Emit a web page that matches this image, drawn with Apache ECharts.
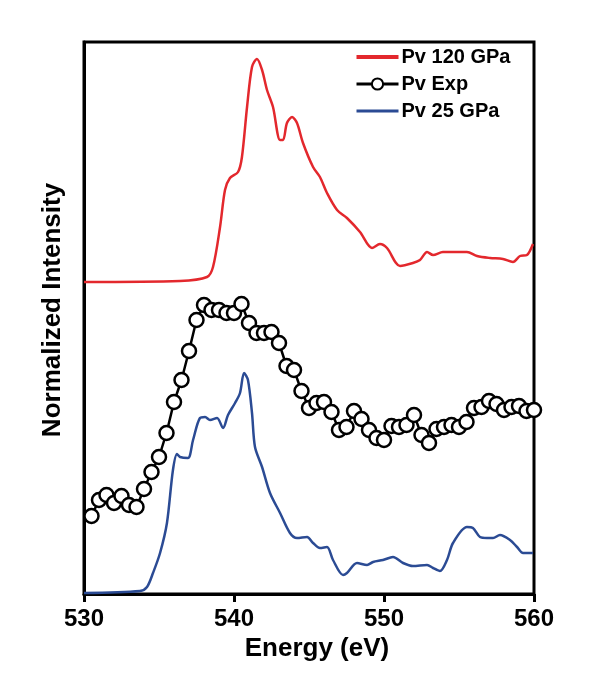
<!DOCTYPE html>
<html><head><meta charset="utf-8">
<script src="https://cdn.jsdelivr.net/npm/echarts@6/dist/echarts.min.js"></script>
<style>html,body{margin:0;padding:0;background:#fff}#c{width:607px;height:687px}</style>
</head><body><div id="c"></div>
<script>
const xTicks = [530, 540, 550, 560];
const red120E = [530,536.4,538.2,538.6,539.07,539.4,539.73,540.27,540.53,540.87,541.2,541.53,541.87,542.2,542.6,543.07,543.27,543.53,543.87,544.2,544.6,545.27,545.73,546.2,546.87,547.53,548.4,549.2,549.73,550.2,551.07,551.93,552.4,552.87,553.27,553.93,554.6,555.53,556.2,557.07,557.93,558.6,559.07,559.53,559.93];
const red120I = [312,313,317,327,367,404,416,422,437,487,527,535,524,504,487,454,454,471,477,471,451,427,417,401,384,376,362,346,350,346,328,331,334,342,339,342,342,342,338,336,335,332,338,339,350];
const blue25E = [530,533.73,534.2,534.6,535.07,535.53,535.93,536.2,536.4,536.93,537.27,537.73,538.07,538.4,538.87,539.27,539.6,540.07,540.4,540.67,540.93,541.2,541.4,541.87,542.4,543.07,543.73,544.2,544.87,545.27,545.73,546.2,546.6,547.27,547.53,548.2,548.87,549.27,549.93,550.6,551.27,551.93,552.87,553.27,553.73,554.2,554.6,555.53,555.93,556.4,556.87,557.27,557.73,558.4,558.87,559.27,559.93];
const blue25I = [1,3,7,21,41,71,124,140,137,136,154,176,177,174,176,166,179,191,201,221,214,181,147,127,101,81,61,56,57,51,46,47,34,19,21,31,29,32,34,37,31,28,29,26,23,34,51,67,66,57,56,56,59,54,47,41,41];
const expE = [530.5,531,531.5,532,532.5,533,533.5,534,534.5,535,535.5,536,536.5,537,537.5,538,538.5,539,539.5,540,540.5,541,541.5,542,542.5,543,543.5,544,544.5,545,545.5,546,546.5,547,547.5,548,548.5,549,549.5,550,550.5,551,551.5,552,552.5,553,553.5,554,554.5,555,555.5,556,556.5,557,557.5,558,558.5,559,559.5,560];
const expI = [78,94,99,91,98,89,87,105,122,137,161,192,214,243,274,289,284,284,281,281,290,271,261,261,262,251,228,224,203,186,191,192,182,164,167,183,175,164,156,154,168,167,169,179,159,151,165,167,169,167,172,186,187,193,190,184,187,188,183,184];

const zip = (a, b) => a.map((v, i) => [v, b[i]]);
const chart = echarts.init(document.getElementById('c'));
const font = 'Liberation Sans, Arial, sans-serif';
const lineIcon = 'path://M0,0L42,0L42,4L0,4Z';
chart.setOption({
  animation: false,
  grid: {left: 84, right: 73, top: 42, bottom: 93, show: true, borderColor: '#000', borderWidth: 3, backgroundColor: 'transparent'},
  legend: {
    orient: 'vertical', left: 350, top: 42, itemWidth: 42, itemHeight: 14, itemGap: 7,
    symbolKeepAspect: true,
    textStyle: {fontFamily: font, fontWeight: 'bold', fontSize: 20, color: '#000', padding: [0,0,0,-2]},
    data: [
      {name: 'Pv 120 GPa', icon: lineIcon, itemStyle: {color: '#e3282d'}},
      {name: 'Pv Exp', lineStyle: {width: 3}},
      {name: 'Pv 25 GPa', icon: 'path://M0,0L42,0L42,3L0,3Z', itemStyle: {color: '#2b4b94'}}
    ]
  },
  xAxis: {
    type: 'value', min: 530, max: 560, interval: 10,
    name: 'Energy (eV)', nameLocation: 'middle', nameGap: 35,
    nameTextStyle: {fontFamily: font, fontWeight: 'bold', fontSize: 26, color: '#000', padding: [0,0,0,16]},
    axisLine: {lineStyle: {color: '#000', width: 3}},
    axisTick: {show: true, inside: false, length: 8, lineStyle: {width: 3, color: '#000'}},
    axisLabel: {fontFamily: font, fontWeight: 'bold', fontSize: 24, color: '#000', margin: 13,
      formatter: v => xTicks.includes(v) ? String(v) : ''},
    splitLine: {show: false}
  },
  yAxis: {
    type: 'value', min: 0, max: 552,
    name: 'Normalized Intensity', nameLocation: 'middle', nameGap: 18,
    nameTextStyle: {fontFamily: font, fontWeight: 'bold', fontSize: 26, color: '#000', padding: [0,0,0,16]},
    axisLine: {show: true, lineStyle: {color: '#000', width: 3}},
    axisTick: {show: false}, axisLabel: {show: false}, splitLine: {show: false}
  },
  series: [
    {name: 'Pv 120 GPa', type: 'line', data: zip(red120E, red120I), smooth: 0.3, showSymbol: false, symbol: 'none',
      lineStyle: {color: '#e3282d', width: 2.5}, itemStyle: {color: '#e3282d'}, z: 3},
    {name: 'Pv Exp', type: 'line', data: zip(expE, expI), symbol: 'circle', symbolSize: 14, showSymbol: true,
      lineStyle: {color: '#000', width: 2.5}, itemStyle: {color: '#fff', borderColor: '#000', borderWidth: 2.5}, z: 4},
    {name: 'Pv 25 GPa', type: 'line', data: zip(blue25E, blue25I), smooth: 0.3, showSymbol: false, symbol: 'none',
      lineStyle: {color: '#2b4b94', width: 2.5}, itemStyle: {color: '#2b4b94'}, z: 3}
  ]
});
</script></body></html>
